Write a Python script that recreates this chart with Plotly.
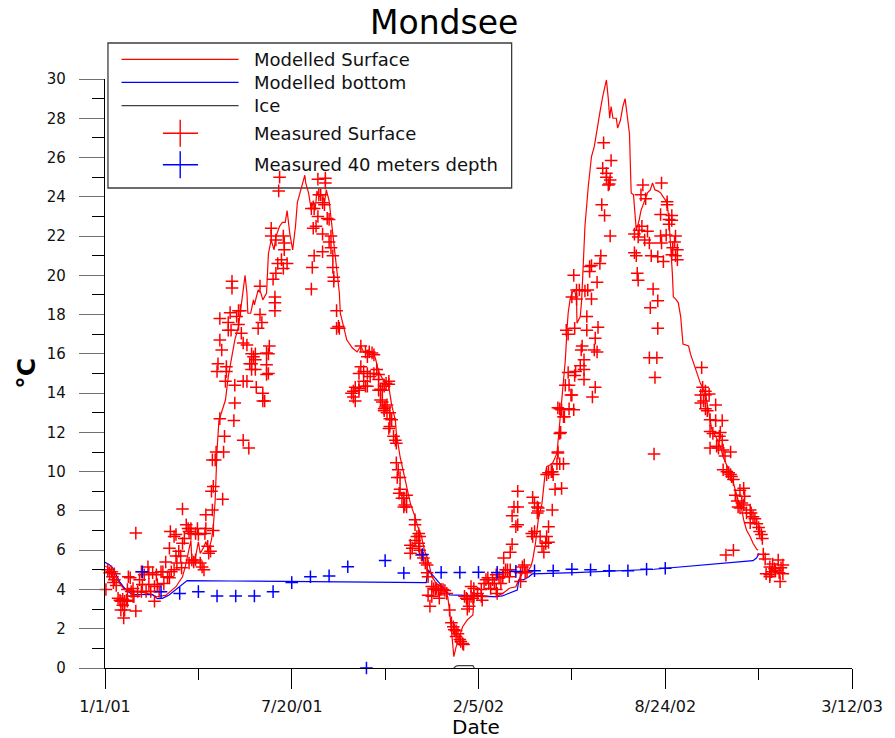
import pandas as pd
import plotly.graph_objects as go

BASE = pd.Timestamp("2001-01-01")

# ---------------- data (day = days since 1/1/01, temperature in degC) ----------------
modelled_surface = [
    (0, 5.2), (5, 5.05), (10, 4.75), (15, 4.35), (20, 4.05), (25, 3.95), (29, 3.9), (40, 3.85),
    (50, 3.75), (55, 3.63), (65, 3.7), (76, 4.14), (83, 4.65), (86, 5.16), (90, 6.18), (92, 6.5),
    (93, 5.5), (97, 5.67), (100, 6.43), (102, 5.84), (106, 6.18), (108, 6.43), (111, 6.0), (114, 6.52),
    (116, 7.2), (118, 8.56), (120, 11.1), (122, 12.6), (124, 12.9), (129, 13.65), (132, 14.84),
    (136, 15.86), (139, 16.7), (143, 17.4), (146, 18.4), (148, 19.1), (150, 20.0), (152, 19.1),
    (153, 18.07), (156, 18.07), (159, 18.75), (160, 18.5), (164, 19.26), (167, 19.1), (169, 18.75),
    (173, 19.1), (175, 21.1), (178, 21.8), (181, 21.3), (183, 21.97), (187, 22.5), (190, 22.7),
    (193, 22.7), (195, 23.3), (198, 22.1), (201, 21.3), (204, 22.5), (206, 23.7), (210, 24.35),
    (214, 25.1), (215, 24.7), (218, 24.2), (221, 23.3), (223, 23.8), (225, 23.3), (227, 24.3),
    (229, 24.0), (233, 24.1), (235, 23.7), (237, 24.35), (240, 23.8), (242, 23.0), (245, 21.8),
    (248, 20.6), (251, 19.1), (252, 18.07), (256, 17.2), (259, 16.7), (265, 16.3), (270, 16.1),
    (274, 16.4), (277, 16.1), (282, 16.2), (288, 16.0), (290, 15.7), (293, 15.1), (297, 14.75),
    (300, 14.6), (304, 14.3), (307, 13.4), (311, 12.6), (312, 11.96), (316, 10.76), (320, 9.92),
    (323, 9.24), (327, 8.39), (332, 7.7), (335, 7.2), (339, 6.69), (342, 6.0), (346, 5.5),
    (348, 5.0), (350, 4.65), (355, 4.3), (360, 4.14), (365, 3.89), (367, 3.63), (369, 2.95),
    (371, 1.77), (373.6, 0.58), (376, 1.08), (380, 1.6), (383, 2.1), (388, 2.45), (394, 2.7),
    (395.5, 3.8), (404, 3.63), (418, 3.63), (426, 3.8), (433, 4.06), (440, 4.14), (443, 4.48),
    (447, 4.82), (452, 4.9), (456, 5.16), (458, 5.5), (461, 6.35), (464, 7.54), (468, 8.39),
    (471, 9.75), (473, 10.25), (479, 10.4), (484, 10.93), (486, 11.96), (489, 13.65), (493, 15.7),
    (495, 17.4), (496, 18.07), (498, 18.75), (500, 19.1), (503, 19.26), (505, 18.75), (505.5, 17.56),
    (509, 17.9), (510.5, 18.75), (512, 20.8), (514, 22.5), (517.5, 24.5), (521, 26.05), (524, 26.56),
    (526, 27.2), (528, 27.6), (530, 28.3), (533, 29.1), (537, 29.95), (539, 29.0), (540.5, 28.0),
    (542, 28.6), (544, 28.0), (547.6, 28.0), (549, 27.5), (552, 27.9), (554.6, 28.6), (557, 29.0),
    (559, 28.3), (561.7, 27.2), (563.5, 24.2), (566, 24.1), (569, 22.3), (572, 22.8), (574, 23.3),
    (577.6, 23.8), (581, 24.2), (584, 24.35), (586.4, 24.7), (589, 24.35), (592, 24.3), (595, 24.2),
    (599, 23.9), (602, 23.7), (604, 22.8), (606, 21.5), (607.6, 20.1), (608.7, 18.9), (611, 18.8),
    (614, 18.6), (616.5, 17.9), (619, 16.5), (622, 16.45), (625, 16.4), (627, 16.0), (630.6, 15.5),
    (634, 15.0), (637.7, 14.5), (643, 14.0), (646.5, 12.97), (650, 12.12), (655, 11.7), (659, 11.27),
    (662, 10.76), (668, 10.09), (673, 9.41), (678, 8.56), (682, 8.05), (684, 7.54), (687, 7.03),
    (691, 6.69), (694, 6.35), (698, 6.05), (699.5, 6.01),
]

modelled_bottom = [
    (0, 5.38), (5, 5.25), (8.5, 5.08), (12, 4.74), (15.6, 4.4), (21, 4.06), (26, 3.84), (30, 3.75),
    (40, 3.75), (51, 3.74), (56, 3.53), (61.5, 3.55), (68.6, 3.72), (75.7, 3.97), (82.7, 4.23),
    (88, 4.45), (136, 4.43), (228, 4.38), (344, 4.35), (346, 5.0), (355, 4.5), (362, 4.14),
    (369, 3.72), (404, 3.67), (418.5, 3.63), (425.6, 3.67), (432.6, 3.8), (441.5, 3.97), (443.2, 4.48),
    (448.5, 4.5), (454, 4.65), (457.5, 4.79), (503.4, 4.86), (588, 5.03), (694, 5.47), (697.7, 5.6),
    (700.6, 5.84),
]

ice = [(373.6, 0.0), (376, 0.1), (378, 0.12), (392, 0.12), (394, 0.12), (395.5, 0.0)]

measured_surface = [
    (1, 4.0), (3, 5.0), (5, 4.85), (7, 4.9), (8, 4.65), (9, 4.35), (10, 4.5), (10, 4.8), (12, 4.2), (14, 3.55),
    (16, 3.45), (17, 3.4), (17, 2.95), (19, 3.5), (19, 3.2), (20, 2.55), (21, 3.4), (21, 2.95), (23, 3.45), (24, 3.4),
    (24, 4.0), (25, 4.65), (27, 4.6), (28, 3.9), (30, 4.05), (30, 3.65), (31, 3.65), (33, 2.9), (33, 6.87), (35, 3.9),
    (37, 4.5), (39, 4.9), (39, 3.9), (40, 4.25), (42, 4.75), (44, 3.9), (46, 5.15), (47, 4.85), (47, 4.25), (49, 3.9),
    (51, 4.85), (53, 4.15), (53, 3.4), (55, 4.75), (56, 4.25), (58, 3.9), (60, 4.9), (62, 4.9), (63, 4.3), (65, 5.4),
    (67, 4.65), (69, 6.1), (69, 4.6), (70, 6.95), (71, 4.9), (74, 6.7), (76, 6.8), (74, 5.0), (76, 5.7), (77, 5.35),
    (79, 5.95), (81, 5.7), (82, 5.1), (83, 6.35), (85, 6.6), (83, 8.1), (87, 7.3), (89, 7.1), (90, 6.95), (92, 7.1),
    (92, 6.85), (90, 5.35), (93, 5.5), (95, 5.4), (97, 5.5), (97, 6.85), (99, 7.1), (100, 6.8), (102, 5.35), (104, 5.15),
    (106, 5.0), (107, 6.85), (108, 7.1), (108, 7.8), (110, 6.2), (111, 5.85), (113, 5.95), (115, 8.05), (114, 9.0), (116, 7.0),
    (116, 9.25), (115, 10.6), (118, 10.6), (119, 11.0), (126, 8.6), (127, 11.0), (128, 11.8), (138, 12.6), (139, 13.5), (148, 11.6),
    (154, 11.2), (169, 13.6),
    (123, 12.7), (125, 16.2), (123, 16.7), (120, 15.1), (121, 15.5), (130, 15.35), (130, 15.1), (129, 14.6), (139, 14.4), (123, 17.8),
    (132, 17.6), (134, 18.1), (132, 17.2), (135, 17.2), (141, 17.9), (143, 18.2), (145, 18.2), (143, 17.5), (146, 17.05), (136, 19.7),
    (136, 19.35), (148, 16.55), (152, 16.45), (157, 16.0), (161, 16.0), (159, 15.85), (157, 15.5), (161, 15.7), (155, 15.5), (161, 15.2),
    (157, 15.2), (148, 14.6), (152, 14.6), (162, 14.3), (169, 14.0), (171, 13.6), (173, 15.45), (173, 14.95), (175, 15.0), (173, 16.05),
    (175, 16.0), (176, 16.4), (166, 18.0), (168, 17.6), (164, 17.3), (166, 19.45), (178, 22.4), (178, 22.0), (183, 21.8), (182, 18.9),
    (182, 18.6), (182, 18.2), (180, 19.8), (183, 20.1), (185, 20.6), (189, 20.8), (191, 20.35), (195, 20.6), (192, 21.3), (192, 21.65),
    (191, 22.0), (187, 25.0), (186, 24.3), (221, 23.4), (224, 23.4), (228, 24.9), (236, 24.95), (236, 24.7), (229, 24.1), (231, 24.1),
    (233, 23.7), (235, 23.6), (240, 22.85), (238, 22.9), (228, 23.0), (223, 22.4), (226, 22.5), (233, 22.1), (242, 22.0), (240, 21.7),
    (242, 21.4), (233, 21.2), (224, 21.0), (244, 21.0), (222, 20.4), (244, 20.4), (245, 19.9), (245, 19.7), (221, 19.3), (248, 18.2),
    (250, 17.4), (251, 17.3), (248, 17.3),
    (274, 16.4), (279, 16.1), (283, 16.1), (286, 16.05), (288, 15.95), (281, 15.85), (274, 15.35), (277, 15.1), (281, 15.0), (272, 15.0),
    (284, 14.85), (288, 15.0), (291, 15.2), (293, 14.95), (277, 14.6), (279, 14.35), (268, 14.3), (272, 14.15), (266, 14.1), (264, 14.0),
    (266, 13.8), (268, 13.6), (297, 14.15), (295, 14.2), (299, 14.35), (301, 14.5), (304, 14.6), (293, 14.7), (295, 13.65), (300, 13.3),
    (299, 13.1), (305, 13.0), (281, 14.35), (272, 14.25), (293, 14.15), (304, 14.45), (297, 13.55), (299, 13.2), (302, 13.0), (302, 13.4),
    (305, 12.7), (307, 12.65), (305, 12.3), (304, 12.2), (309, 11.8), (311, 11.6), (312, 11.45), (312, 10.45), (314, 10.1), (313, 9.7),
    (316, 9.7), (316, 9.1), (315, 8.9), (318, 8.65), (320, 8.65), (323, 8.8), (321, 8.3), (320, 8.2), (323, 8.2), (332, 7.55),
    (332, 7.3), (336, 6.85), (334, 6.7), (337, 6.7), (332, 6.5), (336, 6.35), (327, 6.25), (329, 6.1), (327, 5.85), (336, 6.2),
    (337, 6.0), (339, 5.75), (341, 5.6), (343, 5.35), (345, 5.25), (345, 4.85), (346, 4.65), (350, 4.15), (352, 4.05), (354, 4.0),
    (355, 4.05), (357, 3.95), (359, 4.0), (360, 4.0), (362, 4.0), (364, 3.95), (366, 3.8), (346, 3.7), (350, 3.65), (348, 3.15),
    (358, 3.55), (369, 2.95), (371, 2.3), (373, 2.1), (374, 1.95), (376, 1.9), (378, 1.75), (376, 1.6), (380, 1.45), (381, 1.35),
    (383, 1.25), (384, 1.2), (385, 3.65), (387, 3.55), (388, 3.5), (388, 3.0), (390, 3.15), (392, 3.65), (394, 3.55), (395, 3.65),
    (392, 4.15), (395, 4.05), (399, 3.8), (403, 3.65), (404, 3.45), (403, 4.0), (406, 4.3), (408, 4.5), (410, 4.6), (411, 4.3),
    (413, 4.05), (415, 4.5), (417, 4.3), (419, 4.0), (420, 3.8), (422, 4.6), (419, 4.75), (424, 4.3), (426, 4.65), (427, 4.85),
    (429, 5.0), (431, 5.0), (433, 4.65), (434, 5.0), (427, 5.6), (434, 5.9), (436, 6.3), (440, 7.2), (442, 7.3), (436, 7.75),
    (438, 8.2), (442, 8.2), (442, 9.0), (445, 4.85), (447, 5.15), (449, 5.25), (450, 4.85), (452, 4.9), (445, 4.4), (458, 8.7),
    (460, 8.4), (463, 8.2), (464, 8.15), (457, 6.85), (458, 6.7), (460, 6.95), (463, 7.9), (464, 8.0), (466, 6.7), (468, 6.2),
    (470, 5.9), (472, 6.35), (473, 6.7), (475, 6.4), (475, 7.2), (479, 8.05), (473, 9.85), (475, 9.95), (480, 9.85), (479, 10.0),
    (482, 9.1), (489, 9.15), (484, 10.4), (487, 10.4), (485, 11.0), (487, 11.95), (491, 12.8), (489, 13.15), (485, 13.25), (493, 14.4),
    (497, 14.4), (500, 13.9), (502, 13.15),
    (504, 15.1), (496, 15.05), (503, 14.9), (513, 14.7), (525, 14.3), (499, 13.9), (522, 13.8), (487, 13.2), (497, 13.2), (492, 12.8),
    (488, 12.0), (485, 10.95), (491, 10.4), (478, 10.0), (502, 20.0), (500, 18.9), (505, 19.25), (508, 19.25), (514, 19.2), (517, 19.25),
    (505, 18.8), (521, 18.8), (519, 20.45), (521, 20.5), (519, 20.2), (531, 21.0), (530, 20.6), (527, 19.65), (516, 17.9), (503, 17.3),
    (494, 17.2), (496, 17.0), (516, 17.2), (528, 17.35), (525, 16.8), (511, 16.4), (510, 16.2), (524, 16.2), (527, 16.1), (513, 15.7),
    (509, 15.4), (513, 15.2), (534, 26.75), (542, 25.85), (533, 25.45), (537, 25.2), (537, 25.0), (541, 24.85), (539, 24.6), (540, 24.65),
    (532, 23.6), (535, 23.05), (541, 22.0), (576, 24.6), (596, 24.7), (574, 24.1), (579, 23.9), (602, 23.75), (602, 23.6), (595, 23.1),
    (607, 23.05), (604, 22.85), (607, 22.8), (604, 22.6), (575, 22.5), (572, 22.3), (581, 22.25), (567, 22.1), (571, 21.95), (595, 22.0),
    (601, 22.05), (611, 22.0), (578, 21.8), (583, 21.65), (596, 21.65), (610, 21.7), (608, 21.4), (613, 21.3), (611, 21.0), (613, 20.8),
    (567, 21.15), (569, 21.0), (585, 21.0), (592, 20.95), (598, 20.7), (607, 21.05), (570, 20.1), (571, 19.75), (587, 19.3), (592, 18.7),
    (584, 18.35), (592, 17.3), (583, 15.8), (591, 15.8), (589, 14.8), (588, 10.9),
    (639, 15.3), (640, 14.3), (643, 14.1), (638, 13.9), (643, 13.9), (647, 13.95), (641, 13.6), (638, 13.5), (654, 13.4), (643, 13.2),
    (645, 13.1), (648, 12.65), (654, 12.6), (661, 12.6), (648, 12.05), (651, 11.95), (659, 12.0), (658, 11.8), (661, 11.6), (648, 11.2),
    (655, 11.3), (657, 11.2), (662, 11.1), (670, 11.0), (664, 10.8), (662, 10.1), (666, 10.0), (668, 9.95), (670, 9.85), (671, 9.75),
    (673, 9.6), (684, 9.15), (680, 9.05), (685, 8.75), (675, 8.8), (677, 8.5), (678, 8.2), (682, 8.4), (684, 8.3), (680, 8.15),
    (687, 7.9), (691, 8.05), (692, 7.9), (694, 7.7), (696, 7.6), (691, 7.4), (698, 7.35), (700, 7.15), (701, 6.95), (703, 6.8),
    (704, 6.6), (665, 5.75), (673, 6.0), (705, 5.8), (707, 5.55), (715, 5.3), (721, 5.5), (726, 5.25), (712, 5.15), (717, 5.05),
    (724, 5.1), (708, 4.8), (712, 4.75), (714, 4.9), (718, 4.95), (722, 4.85), (726, 4.8), (712, 4.65), (723, 4.4),
]

measured_40m_days = [40, 60, 80, 100, 120, 140, 160, 180, 200, 220, 240, 260, 280, 300, 320,
                     340, 360, 380, 400, 420, 440, 460, 480, 500, 520, 540, 560, 580, 600]
measured_40m_temp = [4.9, 3.89, 3.8, 3.89, 3.67, 3.67, 3.67, 3.89, 4.35, 4.65, 4.69, 5.16, 0.0, 5.47, 4.84,
                     5.78, 4.87, 4.87, 4.88, 4.87, 4.92, 4.95, 4.95, 5.03, 5.0, 4.95, 4.95, 5.03, 5.08]

tick_days = [0, 200, 400, 600, 800]
tick_labels = ["1/1/01", "7/20/01", "2/5/02", "8/24/02", "3/12/03"]
minor_days = [100, 300, 500, 700]

legend_labels = ["Modelled Surface", "Modelled bottom", "Ice", "Measured Surface", "Measured 40 meters depth"]


def to_dates(days):
    return [BASE + pd.Timedelta(days=float(d)) for d in days]


def split(pairs):
    d, t = zip(*pairs)
    return to_dates(d), list(t)


RED = "#ff0000"
BLUE = "#0000ff"
ICE = "#404040"
FONT = "DejaVu Sans"

fig = go.Figure()

xs, ys = split(modelled_surface)
fig.add_trace(go.Scatter(x=xs, y=ys, mode="lines", line=dict(color=RED, width=1.2), name=legend_labels[0]))
xs, ys = split(modelled_bottom)
fig.add_trace(go.Scatter(x=xs, y=ys, mode="lines", line=dict(color=BLUE, width=1.2), name=legend_labels[1]))
xs, ys = split(ice)
fig.add_trace(go.Scatter(x=xs, y=ys, mode="lines", line=dict(color=ICE, width=1.2), name=legend_labels[2]))
xs, ys = split(measured_surface)
fig.add_trace(go.Scatter(x=xs, y=ys, mode="markers", name=legend_labels[3], cliponaxis=False,
                         marker=dict(symbol="cross-thin", size=9, line=dict(color=RED, width=1.5))))
fig.add_trace(go.Scatter(x=to_dates(measured_40m_days), y=measured_40m_temp, mode="markers",
                         name=legend_labels[4], cliponaxis=False,
                         marker=dict(symbol="cross-thin", size=9, line=dict(color=BLUE, width=1.5))))

W, H = 895, 738
ML, MR, MT, MB = 105, 35, 79, 70
PW, PH = W - ML - MR, H - MT - MB


def px(xp):
    return (xp - ML) / PW


def py(yp):
    return (H - MB - yp) / PH


shapes = []
annotations = []
# legend frame
shapes.append(dict(type="rect", xref="paper", yref="paper", x0=px(108), x1=px(516), y0=py(188), y1=py(43),
                   line=dict(color="#3c3c3c", width=1.3), fillcolor="rgba(0,0,0,0)", layer="below"))
row_y = [59.3, 82.3, 105.7, 133.3, 164.8]
line_cols = [RED, BLUE, ICE]
for i, c in enumerate(line_cols):
    shapes.append(dict(type="line", xref="paper", yref="paper", x0=px(121.7), x1=px(240),
                       y0=py(row_y[i]), y1=py(row_y[i]), line=dict(color=c, width=1.3)))
for i, c in zip([3, 4], [RED, BLUE]):
    shapes.append(dict(type="line", xref="paper", yref="paper", x0=px(163.5), x1=px(199),
                       y0=py(row_y[i]), y1=py(row_y[i]), line=dict(color=c, width=1.4)))
    shapes.append(dict(type="line", xref="paper", yref="paper", x0=px(181), x1=px(181),
                       y0=py(row_y[i] - 13.5), y1=py(row_y[i] + 13.5), line=dict(color=c, width=1.4)))
for i, lab in enumerate(legend_labels):
    annotations.append(dict(text=lab, xref="paper", yref="paper", x=px(254), y=py(row_y[i]),
                            xanchor="left", yanchor="middle", showarrow=False,
                            font=dict(family=FONT, size=18, color="#111111")))

annotations.append(dict(text="°C", xref="paper", yref="paper", x=px(25), y=py(373), textangle=-90,
                        xanchor="center", yanchor="middle", showarrow=False,
                        font=dict(family=FONT, size=25, color="#000000", weight="bold")))
annotations.append(dict(text="Date", xref="paper", yref="paper", x=px(480), y=py(727),
                        xanchor="center", yanchor="middle", showarrow=False,
                        font=dict(family=FONT, size=20, color="#000000")))
annotations.append(dict(text="Mondsee", xref="paper", yref="paper", x=px(448), y=py(22),
                        xanchor="center", yanchor="middle", showarrow=False,
                        font=dict(family=FONT, size=33, color="#000000")))

fig.update_layout(
    width=W, height=H,
    margin=dict(l=ML, r=MR, t=MT, b=MB, pad=0),
    paper_bgcolor="white", plot_bgcolor="white",
    showlegend=False,
    shapes=shapes, annotations=annotations,
    font=dict(family=FONT, color="#000000"),
    xaxis=dict(
        type="date",
        range=[BASE, BASE + pd.Timedelta(days=800)],
        tickmode="array",
        tickvals=to_dates(tick_days), ticktext=tick_labels,
        ticks="outside", ticklen=20, tickwidth=1.2, tickcolor="#000000",
        ticklabelstandoff=4,
        tickfont=dict(family=FONT, size=16, color="#111111"),
        showline=True, linecolor="#000000", linewidth=1.2,
        showgrid=False, zeroline=False,
        minor=dict(tickmode="array", tickvals=to_dates(minor_days), ticks="outside",
                   ticklen=11, tickwidth=1.2, tickcolor="#000000", showgrid=False),
    ),
    yaxis=dict(
        range=[0, 30],
        tickmode="linear", tick0=0, dtick=2,
        ticks="outside", ticklen=25, tickwidth=1.2, tickcolor="#707070",
        ticklabelstandoff=10,
        tickfont=dict(family=FONT, size=15, color="#111111"),
        showline=True, linecolor="#000000", linewidth=1.2,
        showgrid=False, zeroline=False,
        minor=dict(tickmode="linear", tick0=1, dtick=2, ticks="outside",
                   ticklen=12, tickwidth=1.2, tickcolor="#000000", showgrid=False),
    ),
)

fig.write_html("out.html")
